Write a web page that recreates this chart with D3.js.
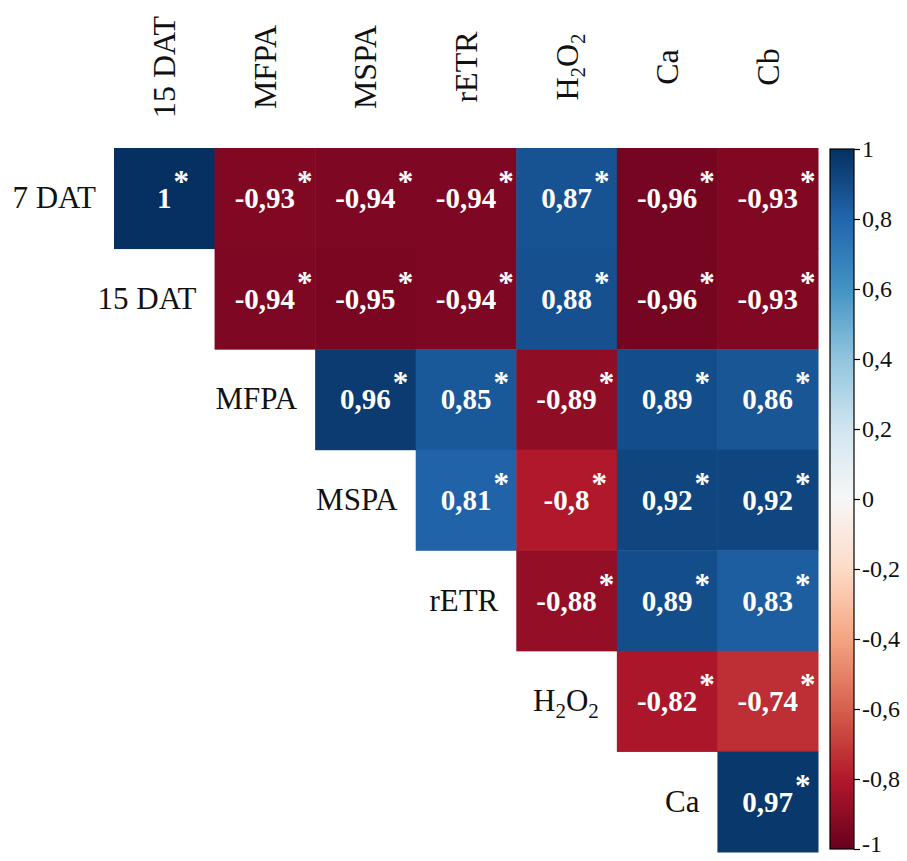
<!DOCTYPE html>
<html lang="en">
  <head>
    <meta charset="utf-8"/>
    <script src="https://d3js.org/d3.v7.min.js"></script>
    <title>Correlation matrix</title>
    <style>
      body { margin: 0; background: #fff; }
      text { font-family: "Liberation Serif", "Times New Roman", "DejaVu Serif", serif; }
    </style>
  </head>
  <body>
    <svg id="svg_main"></svg>

    <script>
      const width = 907;
      const height = 861;

      // row / column names of the upper triangle
      let rowNames = ["7 DAT", "15 DAT", "MFPA", "MSPA", "rETR", "H2O2", "Ca"];
      let colNames = ["15 DAT", "MFPA", "MSPA", "rETR", "H2O2", "Ca", "Cb"];

      // correlations, row i starts at column i
      let r7dat  = [1, -0.93, -0.94, -0.94, 0.87, -0.96, -0.93];
      let r15dat = [-0.94, -0.95, -0.94, 0.88, -0.96, -0.93];
      let rMFPA  = [0.96, 0.85, -0.89, 0.89, 0.86];
      let rMSPA  = [0.81, -0.8, 0.92, 0.92];
      let rETR   = [-0.88, 0.89, 0.83];
      let rH2O2  = [-0.82, -0.74];
      let rCa    = [0.97];
      let rowValues = [r7dat, r15dat, rMFPA, rMSPA, rETR, rH2O2, rCa];

      let legendTicks = [-1, -0.8, -0.6, -0.4, -0.2, 0, 0.2, 0.4, 0.6, 0.8, 1];

      // RdBu palette as used by corrplot
      let paletteColors = ["#67001F", "#B2182B", "#D6604D", "#F4A582", "#FDDBC7", "#F7F7F7",
                           "#D1E5F0", "#92C5DE", "#4393C3", "#2166AC", "#053061"];

      let cells = [];
      rowValues.forEach(function(vals, i) {
        vals.forEach(function(v, k) {
          cells.push({row: rowNames[i], col: colNames[i + k], value: v});
        });
      });

      let fmt = function(v) { return String(v).replace(".", ","); };

      let color = d3.scaleLinear()
          .domain(d3.range(paletteColors.length).map(function(i) { return -1 + 2 * i / (paletteColors.length - 1); }))
          .range(paletteColors);

      let xScale = d3.scaleBand().domain(colNames).range([114, 818]);
      let yScale = d3.scaleBand().domain(rowNames).range([148, 852]);
      let bw = xScale.bandwidth();

      let svg = d3.select("#svg_main")
          .attr("width", width)
          .attr("height", height);

      // label writer, handles the H2O2 subscripts
      function writeLabel(sel, name) {
        if (name === "H2O2") {
          sel.append("tspan").text("H");
          sel.append("tspan").attr("dy", 7).attr("font-size", "21px").text("2");
          sel.append("tspan").attr("dy", -7).text("O");
          sel.append("tspan").attr("dy", 7).attr("font-size", "21px").text("2");
        } else {
          sel.text(name);
        }
      }

      // cells
      svg.append("g")
        .selectAll("rect")
        .data(cells)
        .enter().append("rect")
          .attr("x", function(d) { return xScale(d.col); })
          .attr("y", function(d) { return yScale(d.row); })
          .attr("width", bw + 0.5)
          .attr("height", bw + 0.5)
          .attr("fill", function(d) { return color(d.value); });

      // numbers + significance stars
      let lab = svg.append("g").attr("fill", "#fff").attr("font-weight", "bold");
      cells.forEach(function(d) {
        let cx = xScale(d.col) + bw / 2;
        let cy = yScale(d.row) + bw / 2;
        let t = lab.append("text")
            .attr("x", cx)
            .attr("y", cy + 10)
            .attr("text-anchor", "middle")
            .attr("font-size", "29px")
            .text(fmt(d.value));
        let w = t.node().getComputedTextLength();
        lab.append("text")
            .attr("x", cx + w / 2 + 2)
            .attr("y", cy - 6)
            .attr("font-size", "31px")
            .text("*");
      });

      // row labels, left of the first cell of each row
      rowNames.forEach(function(name, i) {
        let t = svg.append("text")
            .attr("x", xScale(colNames[i]) - 18)
            .attr("y", yScale(name) + bw / 2 + 10)
            .attr("text-anchor", "end")
            .attr("font-size", "31px")
            .attr("fill", "#111");
        writeLabel(t, name);
      });

      // column labels, rotated
      colNames.forEach(function(name) {
        let t = svg.append("text")
            .attr("transform", "translate(" + (xScale(name) + bw / 2 + 11) + ",67) rotate(-90)")
            .attr("text-anchor", "middle")
            .attr("font-size", "32px")
            .attr("fill", "#111");
        writeLabel(t, name);
      });

      // colour legend
      let legendY = d3.scaleLinear().domain([-1, 1]).range([849, 149]);

      let grad = svg.append("defs").append("linearGradient")
          .attr("id", "legendGrad")
          .attr("x1", 0).attr("y1", 1).attr("x2", 0).attr("y2", 0);
      grad.selectAll("stop")
        .data(d3.range(0, 1.001, 0.05))
        .enter().append("stop")
          .attr("offset", function(t) { return t; })
          .attr("stop-color", function(t) { return color(-1 + 2 * t); });

      svg.append("rect")
          .attr("x", 830)
          .attr("y", legendY(1))
          .attr("width", 24)
          .attr("height", legendY(-1) - legendY(1))
          .attr("fill", "url(#legendGrad)")
          .attr("stroke", "#000")
          .attr("stroke-width", 1.2);

      let legendAxis = d3.axisRight(legendY)
          .tickValues(legendTicks)
          .tickFormat(fmt)
          .tickSize(6)
          .tickPadding(2);

      let ax = svg.append("g")
          .attr("transform", "translate(854,0)")
          .call(legendAxis);
      ax.select(".domain").remove();
      ax.selectAll("line").attr("stroke", "#000").attr("stroke-width", 1.2);
      ax.selectAll("text")
          .attr("font-family", "'Liberation Serif', 'Times New Roman', serif")
          .attr("font-size", "24px")
          .attr("fill", "#111");
      // keep the bottom label inside the picture
      ax.selectAll("text").filter(function(d) { return d === -1; }).attr("dy", "0.1em");
    </script>
  </body>
</html>
